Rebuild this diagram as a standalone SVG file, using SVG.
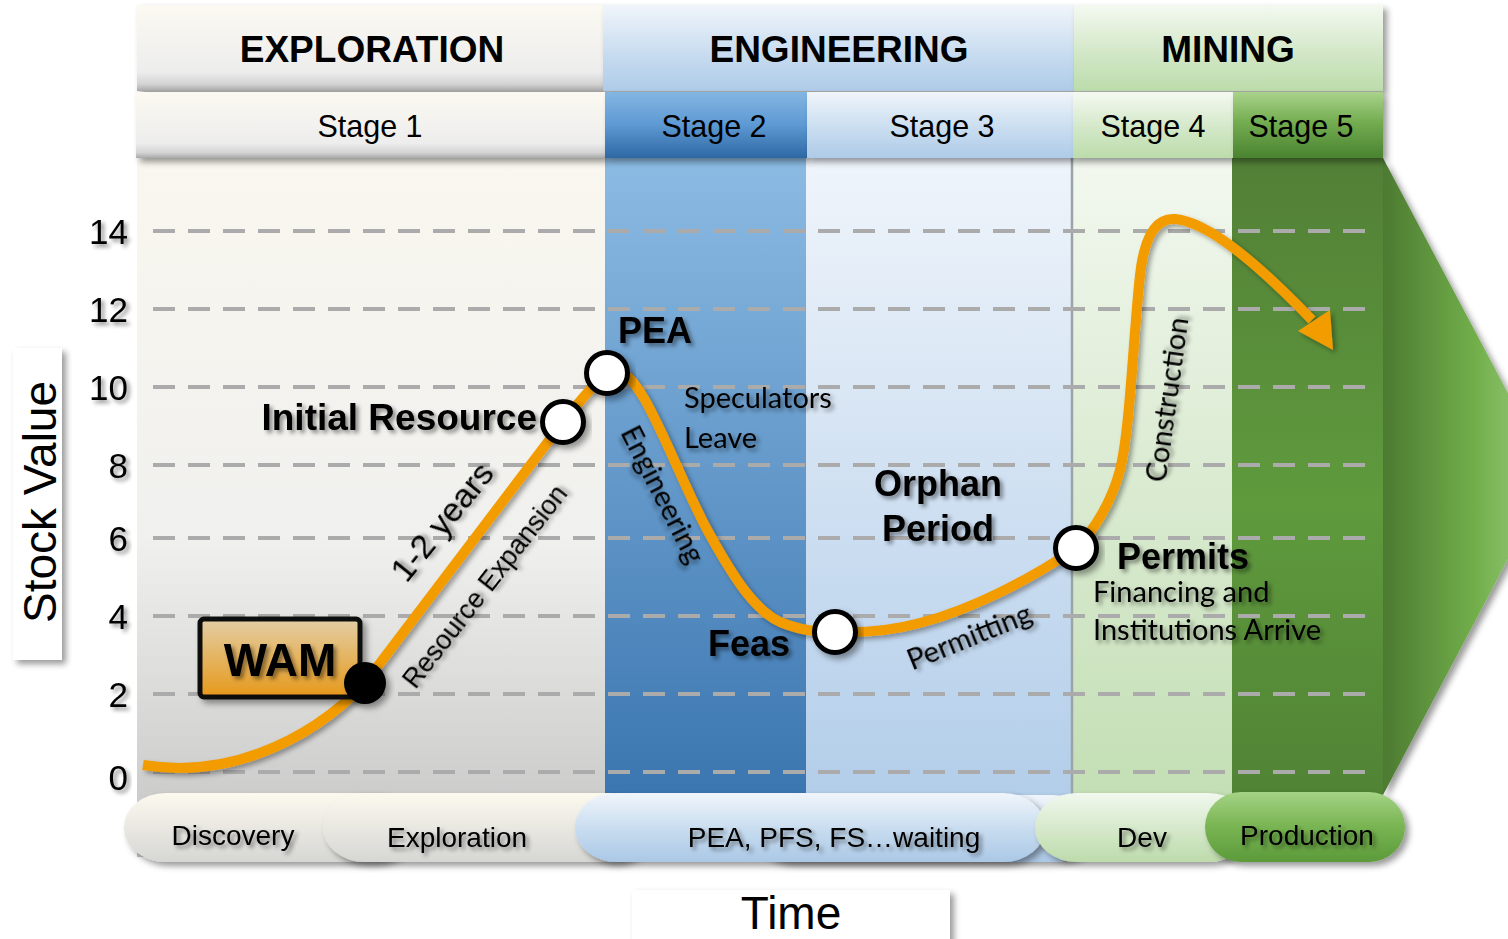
<svg xmlns="http://www.w3.org/2000/svg" width="1508" height="939" viewBox="0 0 1508 939">
  <defs>
    <!-- column fills -->
    <linearGradient id="gCol1" x1="0" y1="0" x2="0" y2="1">
      <stop offset="0" stop-color="#f9f7ef"/>
      <stop offset="0.55" stop-color="#f0f0ee"/>
      <stop offset="1" stop-color="#c4c4c4"/>
    </linearGradient>
    <linearGradient id="gCol2" x1="0" y1="0" x2="0" y2="1">
      <stop offset="0" stop-color="#8dbce4"/>
      <stop offset="1" stop-color="#336fab"/>
    </linearGradient>
    <linearGradient id="gCol3" x1="0" y1="0" x2="0" y2="1">
      <stop offset="0" stop-color="#f0f5fb"/>
      <stop offset="1" stop-color="#adcae8"/>
    </linearGradient>
    <linearGradient id="gCol4" x1="0" y1="0" x2="0" y2="1">
      <stop offset="0" stop-color="#f3f8f0"/>
      <stop offset="1" stop-color="#bfdcaf"/>
    </linearGradient>
    <linearGradient id="gCol5" x1="0" y1="0" x2="0" y2="1">
      <stop offset="0" stop-color="#527f36"/>
      <stop offset="0.5" stop-color="#5f9a3d"/>
      <stop offset="1" stop-color="#4e7e33"/>
    </linearGradient>
    <linearGradient id="gArrow" x1="0" y1="0" x2="1" y2="0">
      <stop offset="0" stop-color="#4c7a31"/>
      <stop offset="0.55" stop-color="#72af4b"/>
      <stop offset="1" stop-color="#a3d189"/>
    </linearGradient>
    <!-- header fills -->
    <linearGradient id="hGray" x1="0" y1="0" x2="0" y2="1">
      <stop offset="0" stop-color="#fbf9f1"/>
      <stop offset="0.78" stop-color="#ededed"/>
      <stop offset="0.92" stop-color="#d3d3d3"/>
      <stop offset="1" stop-color="#a9a9a9"/>
    </linearGradient>
    <linearGradient id="hBlue" x1="0" y1="0" x2="0" y2="1">
      <stop offset="0" stop-color="#f0f5fa"/>
      <stop offset="0.6" stop-color="#c6dbef"/>
      <stop offset="1" stop-color="#aecbe8"/>
    </linearGradient>
    <linearGradient id="hGreen" x1="0" y1="0" x2="0" y2="1">
      <stop offset="0" stop-color="#f4f9f1"/>
      <stop offset="0.6" stop-color="#d0e6c4"/>
      <stop offset="1" stop-color="#bcdcab"/>
    </linearGradient>
    <linearGradient id="hStage2" x1="0" y1="0" x2="0" y2="1">
      <stop offset="0" stop-color="#84b6e3"/>
      <stop offset="0.5" stop-color="#5d99d3"/>
      <stop offset="1" stop-color="#2e68a4"/>
    </linearGradient>
    <linearGradient id="hStage5" x1="0" y1="0" x2="0" y2="1">
      <stop offset="0" stop-color="#a9d38b"/>
      <stop offset="0.45" stop-color="#74ad51"/>
      <stop offset="1" stop-color="#4a832f"/>
    </linearGradient>
    <!-- phase pills -->
    <linearGradient id="pGray" x1="0" y1="0" x2="0" y2="1">
      <stop offset="0" stop-color="#fcf9ee"/>
      <stop offset="1" stop-color="#d6d6d4"/>
    </linearGradient>
    <linearGradient id="pBlue" x1="0" y1="0" x2="0" y2="1">
      <stop offset="0" stop-color="#f0f5fb"/>
      <stop offset="0.6" stop-color="#c3d9ee"/>
      <stop offset="1" stop-color="#abc8e6"/>
    </linearGradient>
    <linearGradient id="pLGreen" x1="0" y1="0" x2="0" y2="1">
      <stop offset="0" stop-color="#f1f8ee"/>
      <stop offset="1" stop-color="#bddbab"/>
    </linearGradient>
    <linearGradient id="pGreen" x1="0" y1="0" x2="0" y2="1">
      <stop offset="0" stop-color="#a5d385"/>
      <stop offset="0.5" stop-color="#78b452"/>
      <stop offset="1" stop-color="#5c9a3a"/>
    </linearGradient>
    <linearGradient id="gWam" x1="0" y1="0" x2="0" y2="1">
      <stop offset="0" stop-color="#e3cea5"/>
      <stop offset="1" stop-color="#e6991a"/>
    </linearGradient>
    <filter id="boxShadow" x="-10%" y="-20%" width="130%" height="160%">
      <feDropShadow dx="4" dy="4" stdDeviation="3" flood-color="#000" flood-opacity="0.4"/>
    </filter>
    <filter id="textShadow" x="-10%" y="-30%" width="130%" height="180%">
      <feDropShadow dx="3" dy="3" stdDeviation="2" flood-color="#000" flood-opacity="0.45"/>
    </filter>
    <filter id="lineShadow" x="-10%" y="-10%" width="130%" height="130%">
      <feDropShadow dx="3" dy="3" stdDeviation="2.5" flood-color="#000" flood-opacity="0.35"/>
    </filter>
  </defs>
  <style>
    .head { font-family: "Liberation Sans", Arial, sans-serif; font-weight: bold; font-size: 37px; fill: #000; text-anchor: middle; }
    .stage { font-family: "Liberation Sans", Arial, sans-serif; font-size: 30.5px; fill: #000; text-anchor: middle; }
    .tick { font-family: "Liberation Sans", Arial, sans-serif; font-size: 35px; fill: #000; text-anchor: end; filter: url(#textShadow); }
    .phase { font-family: "Liberation Sans", Arial, sans-serif; font-size: 28px; fill: #000; text-anchor: middle; filter: url(#textShadow); }
    .big { font-family: "Liberation Sans", Arial, sans-serif; font-weight: bold; font-size: 36px; fill: #000; filter: url(#textShadow); }
    .note { font-family: Lato, "Open Sans", sans-serif; font-size: 29px; fill: #000; filter: url(#textShadow); }
    .diag { font-family: "Liberation Sans", Arial, sans-serif; fill: #000; text-anchor: middle; filter: url(#textShadow); }
    .grid { stroke: #ababab; stroke-width: 4; stroke-dasharray: 22 13; fill: none; }
    .milestone { fill: #fff; stroke: #000; stroke-width: 5; }
  </style>

  <!-- stage columns and production arrow -->
  <g id="background">
    <polygon points="1383,158 1552,476 1383,795" fill="url(#gArrow)" filter="url(#boxShadow)"/>
    <rect x="137" y="150" width="468" height="707" fill="url(#gCol1)"/>
    <rect x="605" y="150" width="201" height="707" fill="url(#gCol2)"/>
    <rect x="806" y="150" width="266" height="707" fill="url(#gCol3)"/>
    <rect x="1072" y="150" width="160" height="707" fill="url(#gCol4)"/>
    <rect x="1232" y="150" width="151" height="707" fill="url(#gCol5)"/>
    <line x1="1072" y1="158" x2="1072" y2="857" stroke="#9aa4a8" stroke-width="2.5"/>
  </g>

  <!-- value grid -->
  <g id="grid">
    <line class="grid" x1="153" y1="231" x2="1378" y2="231"/>
    <line class="grid" x1="153" y1="309" x2="1378" y2="309"/>
    <line class="grid" x1="153" y1="387" x2="1378" y2="387"/>
    <line class="grid" x1="153" y1="465" x2="1378" y2="465"/>
    <line class="grid" x1="153" y1="538" x2="1378" y2="538"/>
    <line class="grid" x1="153" y1="616" x2="1378" y2="616"/>
    <line class="grid" x1="153" y1="694" x2="1378" y2="694"/>
    <line class="grid" x1="153" y1="772" x2="1378" y2="772"/>
  </g>

  <!-- phase headers -->
  <g id="headers">
    <rect x="137" y="5" width="466" height="86" fill="url(#hGray)" filter="url(#boxShadow)"/>
    <rect x="603" y="5" width="471" height="86" fill="url(#hBlue)" filter="url(#boxShadow)"/>
    <rect x="1074" y="5" width="309" height="86" fill="url(#hGreen)" filter="url(#boxShadow)"/>
    <text class="head" x="372" y="62">EXPLORATION</text>
    <text class="head" x="839" y="62">ENGINEERING</text>
    <text class="head" x="1228" y="62">MINING</text>
  </g>
  <g id="stages">
    <rect x="136" y="92" width="469" height="66" fill="url(#hGray)" filter="url(#boxShadow)"/>
    <rect x="605" y="92" width="202" height="66" fill="url(#hStage2)" filter="url(#boxShadow)"/>
    <rect x="807" y="92" width="266" height="66" fill="url(#hBlue)" filter="url(#boxShadow)"/>
    <rect x="1073" y="92" width="160" height="66" fill="url(#hGreen)" filter="url(#boxShadow)"/>
    <rect x="1233" y="92" width="150" height="66" fill="url(#hStage5)" filter="url(#boxShadow)"/>
    <text class="stage" x="370" y="137">Stage 1</text>
    <text class="stage" x="714" y="137">Stage 2</text>
    <text class="stage" x="942" y="137">Stage 3</text>
    <text class="stage" x="1153" y="137">Stage 4</text>
    <text class="stage" x="1301" y="137">Stage 5</text>
  </g>

  <!-- axes -->
  <g id="y-axis">
    <text class="tick" x="128" y="244">14</text>
    <text class="tick" x="128" y="322">12</text>
    <text class="tick" x="128" y="400">10</text>
    <text class="tick" x="128" y="478">8</text>
    <text class="tick" x="128" y="551">6</text>
    <text class="tick" x="128" y="629">4</text>
    <text class="tick" x="128" y="707">2</text>
    <text class="tick" x="128" y="790">0</text>
    <rect x="13" y="348" width="49" height="312" fill="#fff" filter="url(#boxShadow)"/>
    <text x="56" y="502" transform="rotate(-90 56 502)" font-family="Liberation Sans, Arial, sans-serif" font-size="46" text-anchor="middle" fill="#000">Stock Value</text>
  </g>
  <g id="x-axis">
    <rect x="632" y="890" width="318" height="60" fill="#fff" filter="url(#boxShadow)"/>
    <text x="791" y="929" font-family="Liberation Sans, Arial, sans-serif" font-size="46" text-anchor="middle" fill="#000">Time</text>
  </g>

  <!-- activity phases along the time axis -->
  <g id="phases">
    <rect x="124" y="793" width="290" height="69" rx="42" ry="34" fill="url(#pGray)" filter="url(#boxShadow)"/>
    <rect x="323" y="793" width="330" height="69" rx="42" ry="34" fill="url(#pGray)" filter="url(#boxShadow)"/>
    <rect x="750" y="795" width="345" height="67" rx="42" ry="33" fill="url(#pBlue)" filter="url(#boxShadow)"/>
    <rect x="575" y="793" width="470" height="69" rx="42" ry="34" fill="url(#pBlue)" filter="url(#boxShadow)"/>
    <rect x="1035" y="793" width="215" height="69" rx="42" ry="34" fill="url(#pLGreen)" filter="url(#boxShadow)"/>
    <rect x="1205" y="792" width="200" height="70" rx="36" ry="35" fill="url(#pGreen)" filter="url(#boxShadow)"/>
    <text class="phase" x="233" y="845">Discovery</text>
    <text class="phase" x="457" y="847">Exploration</text>
    <text class="phase" x="834" y="847">PEA, PFS, FS…waiting</text>
    <text class="phase" x="1142" y="847">Dev</text>
    <text class="phase" x="1307" y="845">Production</text>
  </g>

  <!-- stock value path -->
  <g id="connectors" filter="url(#lineShadow)">
    <path d="M 143 765 C 175 770 215 770 260 753 C 300 738 335 715 365 683 L 563 422 C 578 404 592 385 607 373 C 625 366 636 385 645 400 C 665 435 690 500 710 535 C 735 580 755 610 780 622 C 800 630 815 632 835 632 C 860 633 890 631 920 623 C 970 610 1030 580 1076 548 C 1095 530 1112 500 1120 470 C 1130 430 1133 340 1140 275 C 1145 230 1160 218 1175 219 C 1210 222 1262 268 1312 320" fill="none" stroke="#f39c00" stroke-width="10" stroke-linejoin="round"/>
    <polygon points="1333,350 1298,331 1330,310" fill="#f39c00"/>
  </g>

  <!-- milestones -->
  <g id="wam">
    <rect x="200" y="619" width="160" height="78" rx="4" fill="url(#gWam)" stroke="#111" stroke-width="5" filter="url(#boxShadow)"/>
    <text class="big" x="280" y="676" text-anchor="middle" style="font-size:46px">WAM</text>
    <circle cx="365" cy="683" r="21" fill="#000" filter="url(#boxShadow)"/>
  </g>
  <g id="initial-resource">
    <circle class="milestone" cx="563" cy="422" r="20.5" filter="url(#boxShadow)"/>
    <text class="big" x="537" y="430" text-anchor="end" style="font-size:37px">Initial Resource</text>
  </g>
  <g id="pea">
    <circle class="milestone" cx="607" cy="373" r="20.5" filter="url(#boxShadow)"/>
    <text class="big" x="618" y="343">PEA</text>
  </g>
  <g id="feas">
    <circle class="milestone" cx="835" cy="632" r="20.5" filter="url(#boxShadow)"/>
    <text class="big" x="708" y="656">Feas</text>
  </g>
  <g id="permits">
    <circle class="milestone" cx="1076" cy="548" r="20.5" filter="url(#boxShadow)"/>
    <text class="big" x="1117" y="569">Permits</text>
    <text class="note" x="1093" y="602">Financing and</text>
    <text class="note" x="1093" y="640">Institutions Arrive</text>
  </g>
  <g id="orphan-period">
    <text class="big" x="938" y="496" text-anchor="middle">Orphan</text>
    <text class="big" x="938" y="541" text-anchor="middle">Period</text>
  </g>

  <!-- path annotations -->
  <g id="annotations">
    <text class="diag" x="451" y="529" font-size="34" transform="rotate(-51 451 529)">1-2 years</text>
    <text class="diag" x="492" y="592" font-size="27" transform="rotate(-52 492 592)">Resource Expansion</text>
    <text class="note" x="684" y="408">Speculators</text>
    <text class="note" x="684" y="448">Leave</text>
    <text class="note" x="654" y="499" text-anchor="middle" transform="rotate(63 654 499)">Engineering</text>
    <text class="note" x="973" y="646" text-anchor="middle" transform="rotate(-22 973 646)">Permitting</text>
    <text class="note" x="1177" y="401" text-anchor="middle" transform="rotate(-82 1177 401)">Construction</text>
  </g>
</svg>
